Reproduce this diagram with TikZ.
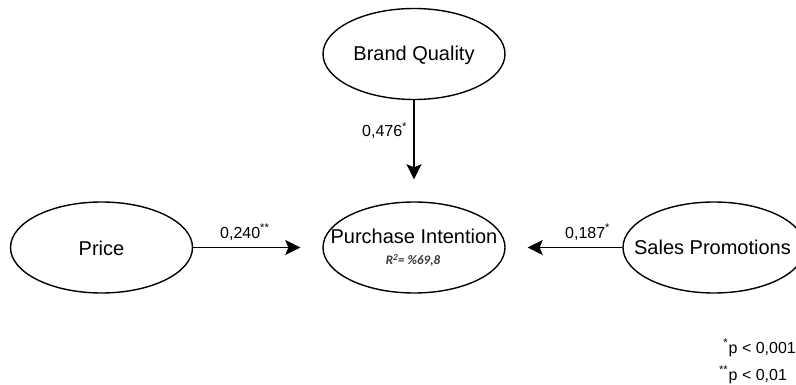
\documentclass[tikz,border=0pt]{standalone}
\usepackage{fontspec}
\setmainfont{Liberation Sans}
\newfontfamily\rsqfont{Carlito}
\usetikzlibrary{shapes.geometric,arrows.meta}
\begin{document}
\begin{tikzpicture}[x=1pt,y=-1pt,
  construct/.style={draw, ellipse, line width=1.4pt, minimum width=182pt,
    minimum height=91pt, inner sep=0pt},
  cname/.style={font=\fontsize{20}{24}\selectfont, inner sep=0pt, anchor=base},
  pathcoef/.style={-{Stealth[length=15pt,width=15pt,inset=3pt]},
    line width=1.8pt, shorten >=22pt},
  coef/.style={font=\fontsize{16}{19}\selectfont, inner sep=0pt, anchor=base west},
  note/.style={font=\fontsize{16}{19}\selectfont, inner sep=0pt},
]
\clip (0,0) rectangle (796,385);

% latent constructs
\node[construct] (bq) at (414,54) {};
\node[construct] (pr) at (101.5,247.5) {};
\node[construct] (pi) at (414,247.5) {};
\node[construct] (sp) at (714,247.5) {};

\node[cname] (bqt) at (414,61) {Brand Quality};
\node[cname] (prt) at (101.5,255) {Price};
\node[cname] (pit) at (414,243.5) {Purchase Intention};
\node[cname] (spt) at (712.5,254.5) {Sales Promotions};
\node[font=\rsqfont\bfseries\itshape\fontsize{13}{15}\selectfont, text=black!78,
  inner sep=0pt, anchor=base] (rsq) at (413,265) {R\textsuperscript{2}= \%69,8};

% structural paths
\draw[pathcoef] (bq) -- (pi);
\draw[pathcoef] (pr) -- (pi);
\draw[pathcoef] (sp) -- (pi);

% path coefficients
\node[coef] (c1) at (362,137) {0,476\textsuperscript{*}};
\node[coef] (c2) at (220,238) {0,240\textsuperscript{**}};
\node[coef] (c3) at (565,238) {0,187\textsuperscript{*}};

% significance levels
\node[note, anchor=base west] (n1) at (728.5,353) {p < 0,001};
\node[note, anchor=base east] (s1) at (n1.base west) {\textsuperscript{*}};
\node[note, anchor=base west] (n2) at (728.5,380) {p < 0,01};
\node[note, anchor=base east] (s2) at (n2.base west) {\textsuperscript{**}};
\end{tikzpicture}
\end{document}
